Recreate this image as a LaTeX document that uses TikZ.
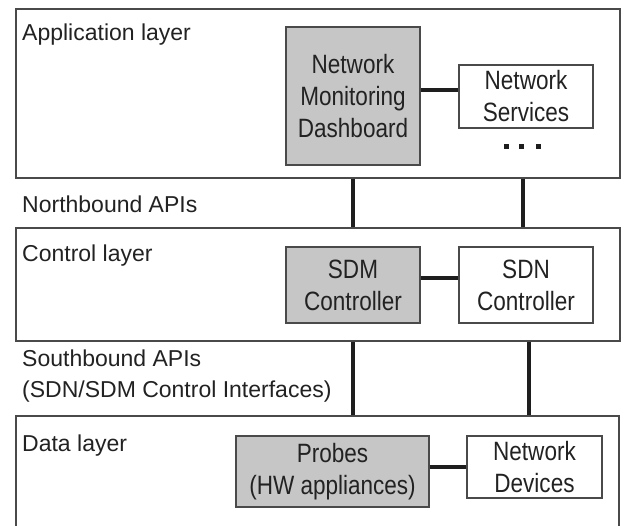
\documentclass[tikz,border=0pt]{standalone}
\usepackage{fontspec}
\setmainfont{Liberation Sans}
% block captions are set a little taller than they are wide
\newfontfamily\blockfont[FakeStretch=0.85]{Liberation Sans}
\definecolor{edgegray}{HTML}{4A4A4A}
\definecolor{blockgray}{HTML}{C6C6C6}
\definecolor{inkgray}{HTML}{222222}
\definecolor{linkgray}{HTML}{1E1E1E}
\begin{document}
\begin{tikzpicture}[x=1pt,y=-1pt,
  every node/.style={text=inkgray},
  txt/.style={font=\fontsize{23}{31}\selectfont},
  blocktxt/.style={font=\blockfont\fontsize{26.5}{32}\selectfont},
  layerbox/.style={draw=edgegray,line width=1.4pt,rectangle,inner sep=0pt,minimum width=604pt},
  lbl/.style={txt,anchor=base west,inner sep=0pt},
  grayblock/.style={blocktxt,draw=edgegray,fill=blockgray,line width=1.3pt,align=center,inner sep=0pt},
  whiteblock/.style={blocktxt,draw=edgegray,fill=white,line width=1.3pt,align=center,inner sep=0pt},
  dotmark/.style={fill=linkgray,inner sep=0pt,minimum size=5pt},
  link/.style={draw=linkgray,line width=3.5pt}]
  \clip (0,0) rectangle (624,526);
  \fill[white] (0,0) rectangle (624,526);

  % three layers
  \node[layerbox,minimum height=169pt] (app)  at (318,93.5)  {};
  \node[layerbox,minimum height=113pt] (ctrl) at (318,284.5) {};
  \node[layerbox,minimum width=603pt,minimum height=160pt] (data) at (317.5,496) {};

  % layer and interface labels
  \node[lbl] (applbl)  at (22,41)  {Application layer};
  \node[lbl] (northlbl) at (22,213) {Northbound APIs};
  \node[lbl] (ctrllbl) at (22,262) {Control layer};
  \node[lbl,align=left] (southlbl) at (22,398) {Southbound APIs\\(SDN/SDM Control Interfaces)};
  \node[lbl] (datalbl) at (22,452) {Data layer};

  % application layer blocks
  \node[grayblock,minimum width=134pt,minimum height=138pt] (dash) at (353,96)
    {Network\\Monitoring\\Dashboard};
  \node[whiteblock,minimum width=134pt,minimum height=63pt] (svc) at (526,96.5)
    {Network\\Services};
  \node[dotmark] (d1) at (506,147) {};
  \node[dotmark] (d2) at (521.5,147) {};
  \node[dotmark] (d3) at (538,147) {};

  % control layer blocks
  \node[grayblock,minimum width=134pt,minimum height=76pt] (sdm) at (353,285)
    {SDM\\Controller};
  \node[whiteblock,minimum width=134pt,minimum height=76pt] (sdn) at (526,285)
    {SDN\\Controller};

  % data layer blocks
  \node[grayblock,minimum width=193pt,minimum height=71pt] (probes) at (332.5,471.5)
    {Probes\\(HW appliances)};
  \node[whiteblock,minimum width=135pt,minimum height=62pt] (dev) at (534.5,467)
    {Network\\Devices};

  % links inside the layers
  \draw[link] ([yshift=6pt]dash.east) -- ([yshift=6.5pt]svc.west);
  \draw[link] ([yshift=7pt]sdm.east) -- ([yshift=7pt]sdn.west);
  \draw[link] (probes.east |- dev.west) -- (dev.west);

  % northbound and southbound interfaces
  \draw[link] (app.south -| dash) -- (ctrl.north -| dash);
  \draw[link] ([xshift=-3pt]app.south -| svc) -- ([xshift=-3pt]ctrl.north -| svc);
  \draw[link] (ctrl.south -| sdm) -- (data.north -| sdm);
  \draw[link] ([xshift=3pt]ctrl.south -| sdn) -- ([xshift=3pt]data.north -| sdn);
\end{tikzpicture}
\end{document}
